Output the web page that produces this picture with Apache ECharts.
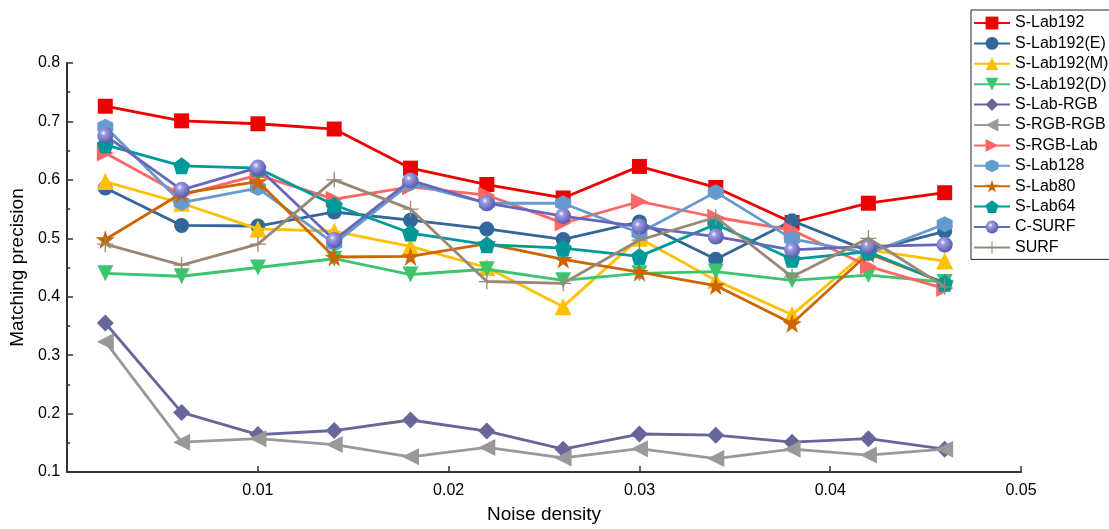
<!DOCTYPE html>
<html>
<head>
<meta charset="utf-8">
<script src="https://cdn.jsdelivr.net/npm/echarts@6/dist/echarts.min.js"></script>
<style>html,body{margin:0;padding:0;background:#fff}#c{width:1109px;height:529px}</style>
</head>
<body>
<div id="c"></div>
<script>
const noiseDensity = [0.002, 0.006, 0.010, 0.014, 0.018, 0.022, 0.026, 0.030, 0.034, 0.038, 0.042, 0.046];
const yTicks = [0.1, 0.2, 0.3, 0.4, 0.5, 0.6, 0.7, 0.8];
const xTicks = [0.01, 0.02, 0.03, 0.04, 0.05];

const sLab192   = [0.726, 0.701, 0.696, 0.687, 0.620, 0.592, 0.569, 0.623, 0.587, 0.527, 0.560, 0.578];
const sLab192E  = [0.586, 0.522, 0.521, 0.545, 0.531, 0.516, 0.498, 0.528, 0.464, 0.530, 0.478, 0.512];
const sLab192M  = [0.597, 0.560, 0.516, 0.512, 0.486, 0.450, 0.383, 0.500, 0.428, 0.369, 0.480, 0.461];
const sLab192D  = [0.440, 0.435, 0.450, 0.465, 0.438, 0.447, 0.428, 0.440, 0.443, 0.428, 0.437, 0.425];
const sLabRGB   = [0.355, 0.202, 0.164, 0.171, 0.189, 0.170, 0.139, 0.165, 0.163, 0.151, 0.157, 0.139];
const sRGBRGB   = [0.323, 0.151, 0.157, 0.147, 0.126, 0.142, 0.124, 0.140, 0.123, 0.139, 0.129, 0.139];
const sRGBLab   = [0.646, 0.574, 0.608, 0.567, 0.588, 0.574, 0.526, 0.563, 0.536, 0.514, 0.452, 0.414];
const sLab128   = [0.691, 0.561, 0.586, 0.491, 0.594, 0.560, 0.560, 0.509, 0.579, 0.499, 0.474, 0.524];
const sLab80    = [0.498, 0.577, 0.597, 0.468, 0.469, 0.491, 0.464, 0.442, 0.419, 0.354, 0.474, 0.424];
const sLab64    = [0.660, 0.624, 0.620, 0.557, 0.509, 0.489, 0.483, 0.469, 0.524, 0.464, 0.477, 0.423];
const cSURF     = [0.676, 0.583, 0.621, 0.497, 0.599, 0.560, 0.538, 0.520, 0.503, 0.480, 0.486, 0.489];
const surf      = [0.490, 0.454, 0.490, 0.600, 0.550, 0.426, 0.423, 0.497, 0.536, 0.434, 0.500, 0.417];

const seriesNames = ['S-Lab192','S-Lab192(E)','S-Lab192(M)','S-Lab192(D)','S-Lab-RGB','S-RGB-RGB','S-RGB-Lab','S-Lab128','S-Lab80','S-Lab64','C-SURF','SURF'];
const seriesValues = [sLab192, sLab192E, sLab192M, sLab192D, sLabRGB, sRGBRGB, sRGBLab, sLab128, sLab80, sLab64, cSURF, surf];

const colors = ['#EE0000','#336699','#FFC000','#3CC46E','#666699','#999999','#FF6666','#6699CC','#CC6600','#009999','#6666BB','#998877'];
const P = {
  down: 'path://M0,0 L10,0 L5,9 Z',
  left: 'path://M0,5 L9,0 L9,10 Z',
  right: 'path://M0,0 L9,5 L0,10 Z',
  hex: 'path://M5,0 L9.33,2.5 L9.33,7.5 L5,10 L0.67,7.5 L0.67,2.5 Z',
  star: 'path://M5,0 L6.18,3.62 L10,3.62 L6.91,5.86 L8.09,9.5 L5,7.26 L1.91,9.5 L3.09,5.86 L0,3.62 L3.82,3.62 Z',
  pent: 'path://M5,0 L10,3.63 L8.09,9.5 L1.91,9.5 L0,3.63 Z',
  plus: 'path://M4.6,0 L5.4,0 L5.4,4.6 L10,4.6 L10,5.4 L5.4,5.4 L5.4,10 L4.6,10 L4.6,5.4 L0,5.4 L0,4.6 L4.6,4.6 Z'
};
const symbols = ['rect','circle','triangle',P.down,'diamond',P.left,P.right,P.hex,P.star,P.pent,'circle',P.plus];
const sizes = [15,15,17,16,17,17,17,16,19,17,16,16];

const series = seriesNames.map((name, i) => {
  const itemColor = name === 'C-SURF' ? {
    type: 'radial', x: 0.38, y: 0.35, r: 0.65,
    colorStops: [{offset: 0, color: '#ffffff'}, {offset: 0.25, color: '#9c9ce0'}, {offset: 1, color: '#5858b0'}]
  } : colors[i];
  return {
    name: name,
    type: 'line',
    data: noiseDensity.map((x, k) => [x, seriesValues[i][k]]),
    symbol: symbols[i],
    symbolSize: sizes[i],
    showAllSymbol: true,
    lineStyle: {color: colors[i], width: 2.8},
    itemStyle: {color: itemColor, borderWidth: 0},
    emphasis: {disabled: true},
    animation: false,
    z: 2 + i
  };
});

const chart = echarts.init(document.getElementById('c'), null, {renderer: 'canvas'});
chart.setOption({
  animation: false,
  backgroundColor: '#fff',
  color: colors,
  grid: {left: 65, top: 63, right: 88, bottom: 57, containLabel: false},
  legend: {
    orient: 'vertical',
    left: 971, top: 10,
    padding: [5, 40, 4, 2],
    itemGap: 4.4,
    itemWidth: 36,
    itemHeight: 16,
    borderColor: '#222', borderWidth: 1,
    textStyle: {fontFamily: 'Liberation Sans, Arial, sans-serif', fontSize: 16, color: '#000'},
    data: seriesNames
  },
  xAxis: {
    type: 'value',
    min: 0, max: 0.05, interval: 0.01,
    name: 'Noise density',
    nameLocation: 'middle',
    nameGap: 33,
    nameTextStyle: {fontFamily: 'Liberation Sans, Arial, sans-serif', fontSize: 19, color: '#000'},
    axisLine: {show: true, onZero: false, lineStyle: {color: '#333', width: 2}},
    axisTick: {show: true, inside: true, length: 6, lineStyle: {color: '#333', width: 1.5}},
    axisLabel: {
      fontFamily: 'Liberation Sans, Arial, sans-serif', fontSize: 16, color: '#000', margin: 11,
      formatter: v => (xTicks.some(t => Math.abs(t - v) < 1e-9) ? v.toFixed(2) : '')
    },
    splitLine: {show: false}
  },
  yAxis: {
    type: 'value',
    min: 0.1, max: 0.8, interval: 0.1,
    name: 'Matching precision',
    nameLocation: 'middle',
    nameGap: 35,
    nameTextStyle: {fontFamily: 'Liberation Sans, Arial, sans-serif', fontSize: 19, color: '#000'},
    axisLine: {show: true, onZero: false, lineStyle: {color: '#333', width: 2}},
    axisTick: {show: true, inside: true, length: 6, lineStyle: {color: '#333', width: 1.5}},
    minorTick: {show: true, splitNumber: 2, length: 3, lineStyle: {color: '#333', width: 1.5}},
    axisLabel: {
      fontFamily: 'Liberation Sans, Arial, sans-serif', fontSize: 16, color: '#000', margin: 7,
      formatter: v => (yTicks.some(t => Math.abs(t - v) < 1e-9) ? v.toFixed(1) : '')
    },
    splitLine: {show: false}
  },
  series: series
});
</script>
</body>
</html>
